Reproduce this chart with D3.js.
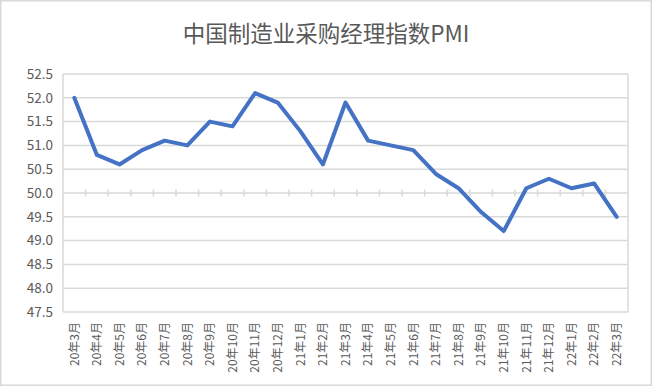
<!DOCTYPE html>
<html>
<head>
<meta charset="utf-8">
<script src="https://cdn.jsdelivr.net/npm/d3@7"></script>
<style>
  body { margin: 0; background: #fff; }
  svg { display: block; font-family: "Noto Sans CJK SC", "DejaVu Sans", sans-serif; }
</style>
</head>
<body>
<div id="chart"></div>
<script>
// month labels and PMI values
const months = ["20年3月","20年4月","20年5月","20年6月","20年7月","20年8月","20年9月","20年10月","20年11月","20年12月",
  "21年1月","21年2月","21年3月","21年4月","21年5月","21年6月","21年7月","21年8月","21年9月","21年10月","21年11月","21年12月",
  "22年1月","22年2月","22年3月"]
const pmi = [52.0,50.8,50.6,50.9,51.1,51.0,51.5,51.4,52.1,51.9,51.3,50.6,51.9,51.1,51.0,50.9,50.4,50.1,49.6,49.2,50.1,50.3,50.1,50.2,49.5]
const yTicks = [47.5,48.0,48.5,49.0,49.5,50.0,50.5,51.0,51.5,52.0,52.5]

const width = 652, height = 386
const margin = { top: 74, right: 24, bottom: 74, left: 63 }

const svg = d3.select("#chart").append("svg")
  .attr("width", width)
  .attr("height", height)

// outer frame
svg.append("rect")
  .attr("x", 0.75).attr("y", 0.75)
  .attr("width", width - 1.5).attr("height", height - 1.5)
  .attr("fill", "#fff")
  .attr("stroke", "#d9d9d9")
  .attr("stroke-width", 1.5)

svg.append("text")
  .attr("x", 326)
  .attr("y", 42)
  .attr("text-anchor", "middle")
  .attr("fill", "#595959")
  .style("font-size", "22.5px")
  .text("中国制造业采购经理指数PMI")

const x = d3.scaleBand()
  .domain(months)
  .range([margin.left, width - margin.right])

const y = d3.scaleLinear()
  .domain([47.5, 52.5])
  .range([height - margin.bottom, margin.top])

// horizontal gridlines
svg.append("g")
  .selectAll("line")
  .data(yTicks)
  .enter().append("line")
  .attr("x1", margin.left)
  .attr("x2", width - margin.right)
  .attr("y1", d => y(d))
  .attr("y2", d => y(d))
  .attr("stroke", "#d9d9d9")
  .attr("stroke-width", 1.5)

// left and right frame of plot area
svg.append("g")
  .selectAll("line")
  .data([margin.left, width - margin.right])
  .enter().append("line")
  .attr("x1", d => d).attr("x2", d => d)
  .attr("y1", y(52.5)).attr("y2", y(47.5))
  .attr("stroke", "#d9d9d9")
  .attr("stroke-width", 1.5)

// category axis crosses at 50 with tick marks between categories
svg.append("g")
  .selectAll("line")
  .data(months.slice(1))
  .enter().append("line")
  .attr("x1", d => x(d)).attr("x2", d => x(d))
  .attr("y1", y(50) - 3.5).attr("y2", y(50) + 3.5)
  .attr("stroke", "#d9d9d9")
  .attr("stroke-width", 1.5)

// y tick labels
svg.append("g")
  .selectAll("text")
  .data(yTicks)
  .enter().append("text")
  .attr("x", margin.left - 10)
  .attr("y", d => y(d))
  .attr("dy", "0.35em")
  .attr("text-anchor", "end")
  .attr("fill", "#595959")
  .style("font-size", "13.5px")
  .text(d => d.toFixed(1))

// x tick labels, rotated
svg.append("g")
  .selectAll("text")
  .data(months)
  .enter().append("text")
  .attr("transform", d => "translate(" + (x(d) + x.bandwidth() / 2) + "," + (y(47.5) + 10) + ") rotate(-90)")
  .attr("dy", "0.35em")
  .attr("text-anchor", "end")
  .attr("fill", "#595959")
  .style("font-size", "12px")
  .text(d => d)

const line = d3.line()
  .x((d, i) => x(months[i]) + x.bandwidth() / 2)
  .y(d => y(d))

svg.append("path")
  .datum(pmi)
  .attr("d", line)
  .attr("fill", "none")
  .attr("stroke", "#4472c4")
  .attr("stroke-width", 4)
  .attr("stroke-linejoin", "round")
  .attr("stroke-linecap", "round")
</script>
</body>
</html>
